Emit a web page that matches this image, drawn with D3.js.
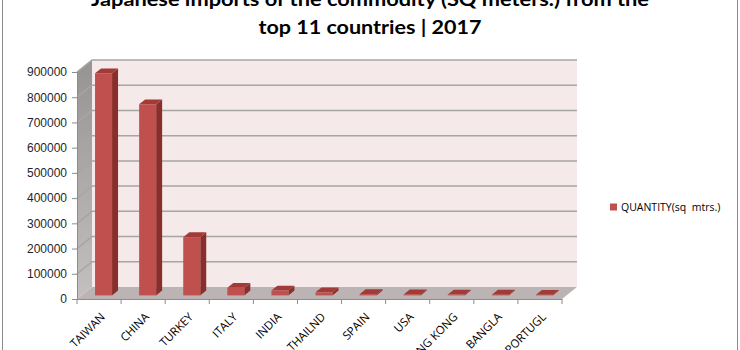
<!DOCTYPE html>
<html>
<head>
<meta charset="utf-8">
<script src="https://cdn.jsdelivr.net/npm/d3@7"></script>
<style>
  body { margin: 0; background: #fff; }
  svg { display: block; }
</style>
</head>
<body>
<div id="chart"></div>
<script>
// data
const countries = ["TAIWAN", "CHINA", "TURKEY", "ITALY", "INDIA", "THAILND", "SPAIN", "USA", "HONG KONG", "BANGLA", "PORTUGL"];
const quantity = [881000, 758000, 231000, 30000, 19000, 12000, 5000, 4000, 3500, 3000, 2500];
const yTicks = [0, 100000, 200000, 300000, 400000, 500000, 600000, 700000, 800000, 900000];
const seriesName = "QUANTITY(sq  mtrs.)";
const titleLines = ["Japanese imports of the commodity (SQ meters.) from the", "top 11 countries | 2017"];

const W = 740, H = 350;
// 3d depth offset of the back wall
const depthX = 15, depthY = -12;
const x0 = 77, x1 = 562, yBase = 299;

const svg = d3.select("#chart").append("svg")
  .attr("width", W).attr("height", H);

const defs = svg.append("defs");
const sideGrad = defs.append("linearGradient").attr("id", "sideGrad")
  .attr("x1", 0).attr("y1", 0).attr("x2", 0).attr("y2", 1);
sideGrad.append("stop").attr("offset", "0%").attr("stop-color", "#979393");
sideGrad.append("stop").attr("offset", "100%").attr("stop-color", "#c4c0c0");

// chart frame
svg.append("line").attr("x1", 2.5).attr("x2", 2.5).attr("y1", 0).attr("y2", H)
  .attr("stroke", "#8a8a8a");
svg.append("line").attr("x1", 737.5).attr("x2", 737.5).attr("y1", 0).attr("y2", H)
  .attr("stroke", "#8a8a8a");

// title
svg.append("g").selectAll("text")
  .data(titleLines)
  .join("text")
  .attr("x", 370)
  .attr("y", (d, i) => 6 + i * 28)
  .attr("text-anchor", "middle")
  .attr("font-family", "Lato, 'Open Sans', sans-serif")
  .attr("font-weight", "bold")
  .attr("font-size", 19)
  .attr("fill", "#000")
  .attr("textLength", (d, i) => i === 0 ? 558 : 223)
  .attr("lengthAdjust", "spacingAndGlyphs")
  .text(d => d);

const x = d3.scaleBand().domain(countries).range([x0, x1]).paddingInner(0).paddingOuter(0);
const y = d3.scaleLinear().domain([0, 900000]).range([yBase, 72]);

// back wall
const wallTop = y(900000) + depthY;
svg.append("rect")
  .attr("x", x0 + depthX).attr("y", wallTop)
  .attr("width", x1 - x0).attr("height", yBase + depthY - wallTop)
  .attr("fill", "#f5e9e9");

// side wall
svg.append("polygon")
  .attr("points", [[x0, y(900000)], [x0 + depthX, wallTop], [x0 + depthX, yBase + depthY], [x0, yBase]].join(" "))
  .attr("fill", "url(#sideGrad)");

// floor
svg.append("polygon")
  .attr("points", [[x0, yBase], [x1, yBase], [x1 + depthX, yBase + depthY], [x0 + depthX, yBase + depthY]].join(" "))
  .attr("fill", "#bcb4b4");

// gridlines on back and side wall
const grid = svg.append("g").attr("stroke", "#a8a5a5").attr("stroke-width", 1.5).attr("fill", "none");
grid.selectAll("path")
  .data(yTicks.filter(d => d > 0))
  .join("path")
  .attr("d", d => `M${x0},${y(d)}L${x0 + depthX},${y(d) + depthY}L${x1 + depthX},${y(d) + depthY}`);

// bars, placed in the middle of the depth
const barFront = 0.3, barDepth = 0.4;
const barW = 17;
const bars = svg.append("g").selectAll("g")
  .data(countries.map((c, i) => ({ c, v: quantity[i] })))
  .join("g")
  .attr("transform", d => `translate(${x(d.c) + x.bandwidth() / 2 - barW / 2 + depthX * barFront},${depthY * barFront})`);

const dx = depthX * barDepth, dy = depthY * barDepth;
bars.append("polygon")
  .attr("points", d => [[barW, y(d.v)], [barW + dx, y(d.v) + dy], [barW + dx, yBase + dy], [barW, yBase]].join(" "))
  .attr("fill", "#8a2e2c");
bars.append("polygon")
  .attr("points", d => [[0, y(d.v)], [dx, y(d.v) + dy], [barW + dx, y(d.v) + dy], [barW, y(d.v)]].join(" "))
  .attr("fill", "#a23a37");
bars.append("rect")
  .attr("x", 0).attr("y", d => y(d.v))
  .attr("width", barW).attr("height", d => yBase - y(d.v))
  .attr("fill", "#c0504d");

// y axis
const yAxis = svg.append("g")
  .attr("transform", `translate(${x0},0)`)
  .call(d3.axisLeft(y).tickValues(yTicks).tickSize(5).tickPadding(5).tickFormat(d3.format("d")));
yAxis.select(".domain").attr("stroke", "#8c8c8c");
yAxis.selectAll(".tick line").attr("stroke", "#8c8c8c");
yAxis.selectAll("text")
  .attr("font-family", "'Liberation Sans', Arial, sans-serif")
  .attr("font-size", 12)
  .attr("fill", "#1f1f2f");

// x axis
const xAxis = svg.append("g")
  .attr("transform", `translate(0,${yBase})`)
  .call(d3.axisBottom(x).tickSize(0).tickFormat(""));
xAxis.select(".domain").attr("stroke", "#8c8c8c");
xAxis.selectAll(".bound")
  .data(d3.range(countries.length + 1))
  .join("line")
  .attr("class", "bound")
  .attr("x1", i => x0 + i * x.step()).attr("x2", i => x0 + i * x.step())
  .attr("y1", 0).attr("y2", 5)
  .attr("stroke", "#8c8c8c");

svg.append("g").selectAll("text")
  .data(countries)
  .join("text")
  .attr("transform", d => `translate(${x(d) + x.bandwidth() / 2 + 1},${yBase + 13}) rotate(-45)`)
  .attr("text-anchor", "end")
  .attr("dy", "0.7em")
  .attr("font-family", "'Open Sans', 'Liberation Sans', sans-serif")
  .attr("font-size", 11.5)
  .attr("fill", "#000")
  .text(d => d);

// legend
const legend = svg.append("g").attr("transform", "translate(610,207)");
legend.append("rect").attr("x", 0).attr("y", -3.5).attr("width", 7).attr("height", 7).attr("fill", "#c0504d");
legend.append("text")
  .attr("x", 11).attr("y", 0).attr("dy", "0.35em")
  .attr("font-family", "'Open Sans', 'Liberation Sans', sans-serif")
  .attr("font-size", 10.5)
  .attr("fill", "#000")
  .attr("xml:space", "preserve")
  .text(seriesName);
</script>
</body>
</html>
